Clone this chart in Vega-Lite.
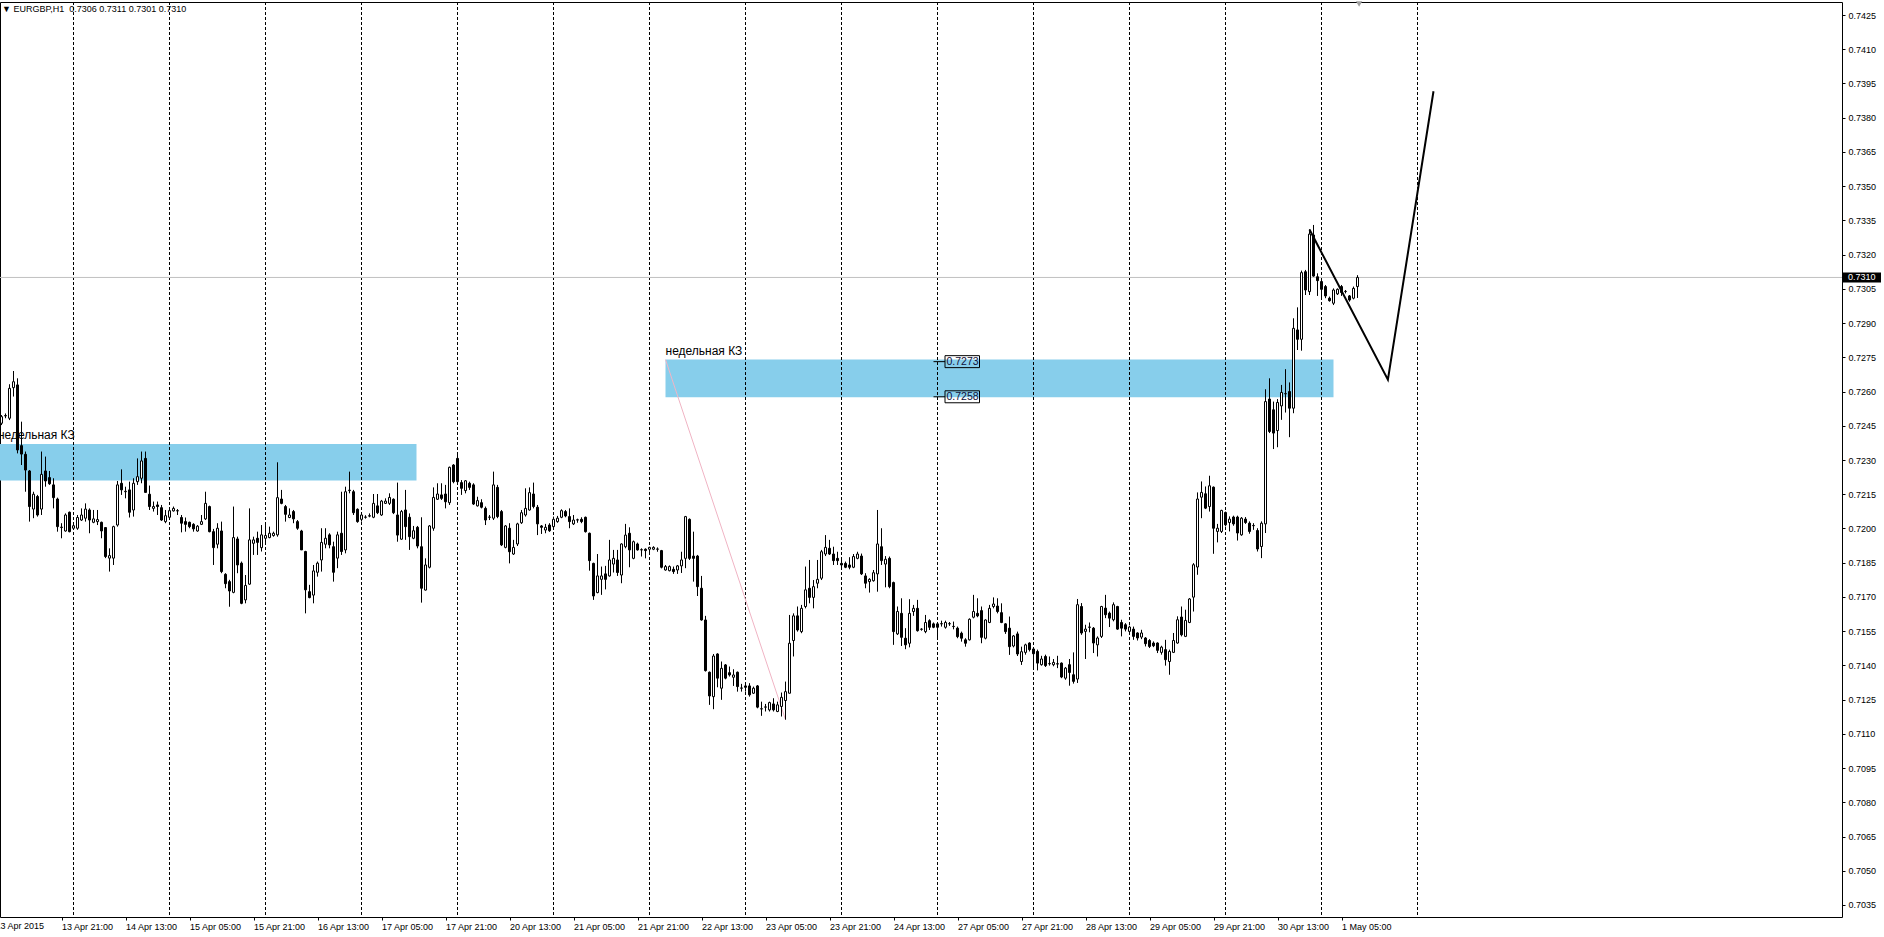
{
"$schema":"https://vega.github.io/schema/vega-lite/v6.json",
"width":1842,"height":915,
"autosize":"none",
"padding":{"left":0,"top":2,"right":42,"bottom":20},
"background":"white",
"config":{"view":{"stroke":"black","strokeWidth":1},"scale":{"continuousPadding":0},"axis":{"labelFont":"Liberation Sans","labelFontSize":9,"labelColor":"black","tickColor":"black","domain":false,"grid":false,"labelOverlap":false}},
"title":{"text":"▼ EURGBP,H1 \u00a00.7306 0.7311 0.7301 0.7310","anchor":"start","frame":"group","orient":"top","offset":-13,"dx":2,"font":"Liberation Sans","fontSize":9,"fontWeight":"normal","color":"black"},
"datasets":{
"candles":[
{"i":6,"o":0.72461,"h":0.72497,"l":0.72453,"c":0.72490},
{"i":7,"o":0.72493,"h":0.72504,"l":0.72483,"c":0.72495},
{"i":8,"o":0.72483,"h":0.72632,"l":0.72475,"c":0.72614},
{"i":9,"o":0.72617,"h":0.72690,"l":0.72578,"c":0.72643},
{"i":10,"o":0.72629,"h":0.72658,"l":0.72329,"c":0.72344},
{"i":11,"o":0.72363,"h":0.72468,"l":0.72278,"c":0.72326},
{"i":12,"o":0.72325,"h":0.72337,"l":0.72161,"c":0.72256},
{"i":13,"o":0.72252,"h":0.72256,"l":0.72030,"c":0.72096},
{"i":14,"o":0.72085,"h":0.72161,"l":0.72045,"c":0.72150},
{"i":15,"o":0.72140,"h":0.72147,"l":0.72052,"c":0.72059},
{"i":16,"o":0.72085,"h":0.72337,"l":0.72059,"c":0.72237},
{"i":17,"o":0.72252,"h":0.72315,"l":0.72183,"c":0.72208},
{"i":18,"o":0.72223,"h":0.72252,"l":0.72191,"c":0.72196},
{"i":19,"o":0.72191,"h":0.72220,"l":0.72088,"c":0.72135},
{"i":20,"o":0.72129,"h":0.72135,"l":0.71986,"c":0.72008},
{"i":21,"o":0.72004,"h":0.72023,"l":0.71957,"c":0.72006},
{"i":22,"o":0.71989,"h":0.72066,"l":0.71986,"c":0.72059},
{"i":23,"o":0.72071,"h":0.72074,"l":0.71983,"c":0.71986},
{"i":24,"o":0.72001,"h":0.72023,"l":0.71994,"c":0.72012},
{"i":25,"o":0.72001,"h":0.72059,"l":0.71994,"c":0.72048},
{"i":26,"o":0.72037,"h":0.72088,"l":0.72033,"c":0.72059},
{"i":27,"o":0.72045,"h":0.72110,"l":0.72030,"c":0.72085},
{"i":28,"o":0.72081,"h":0.72088,"l":0.71979,"c":0.72037},
{"i":29,"o":0.72027,"h":0.72081,"l":0.72023,"c":0.72042},
{"i":30,"o":0.72030,"h":0.72081,"l":0.72015,"c":0.72039},
{"i":31,"o":0.72027,"h":0.72030,"l":0.71957,"c":0.71989},
{"i":32,"o":0.72004,"h":0.72006,"l":0.71870,"c":0.71877},
{"i":33,"o":0.71870,"h":0.71913,"l":0.71811,"c":0.71881},
{"i":34,"o":0.71870,"h":0.72012,"l":0.71840,"c":0.72008},
{"i":35,"o":0.72015,"h":0.72208,"l":0.72008,"c":0.72191},
{"i":36,"o":0.72198,"h":0.72259,"l":0.72147,"c":0.72169},
{"i":37,"o":0.72161,"h":0.72183,"l":0.72132,"c":0.72163},
{"i":38,"o":0.72169,"h":0.72205,"l":0.72048,"c":0.72071},
{"i":39,"o":0.72081,"h":0.72220,"l":0.72052,"c":0.72198},
{"i":40,"o":0.72205,"h":0.72307,"l":0.72191,"c":0.72227},
{"i":41,"o":0.72220,"h":0.72337,"l":0.72198,"c":0.72296},
{"i":42,"o":0.72307,"h":0.72337,"l":0.72158,"c":0.72158},
{"i":43,"o":0.72150,"h":0.72188,"l":0.72081,"c":0.72096},
{"i":44,"o":0.72088,"h":0.72118,"l":0.72074,"c":0.72096},
{"i":45,"o":0.72103,"h":0.72118,"l":0.72059,"c":0.72096},
{"i":46,"o":0.72091,"h":0.72103,"l":0.72033,"c":0.72037},
{"i":47,"o":0.72030,"h":0.72081,"l":0.72023,"c":0.72056},
{"i":48,"o":0.72049,"h":0.72088,"l":0.72037,"c":0.72078},
{"i":49,"o":0.72077,"h":0.72096,"l":0.72074,"c":0.72088},
{"i":50,"o":0.72077,"h":0.72085,"l":0.72059,"c":0.72078},
{"i":51,"o":0.72048,"h":0.72059,"l":0.71983,"c":0.72023},
{"i":52,"o":0.72030,"h":0.72048,"l":0.71986,"c":0.72018},
{"i":53,"o":0.72027,"h":0.72030,"l":0.72001,"c":0.72008},
{"i":54,"o":0.72018,"h":0.72023,"l":0.71986,"c":0.71998},
{"i":55,"o":0.71989,"h":0.72015,"l":0.71986,"c":0.72010},
{"i":56,"o":0.72018,"h":0.72059,"l":0.72015,"c":0.72030},
{"i":57,"o":0.72042,"h":0.72161,"l":0.72037,"c":0.72110},
{"i":58,"o":0.72096,"h":0.72100,"l":0.71983,"c":0.71986},
{"i":59,"o":0.71986,"h":0.71998,"l":0.71840,"c":0.71916},
{"i":60,"o":0.71931,"h":0.72023,"l":0.71913,"c":0.72001},
{"i":61,"o":0.71989,"h":0.72030,"l":0.71804,"c":0.71811},
{"i":62,"o":0.71799,"h":0.71804,"l":0.71738,"c":0.71758},
{"i":63,"o":0.71767,"h":0.71775,"l":0.71657,"c":0.71726},
{"i":64,"o":0.71720,"h":0.72096,"l":0.71716,"c":0.71960},
{"i":65,"o":0.71954,"h":0.71964,"l":0.71804,"c":0.71840},
{"i":66,"o":0.71848,"h":0.71855,"l":0.71668,"c":0.71672},
{"i":67,"o":0.71687,"h":0.71796,"l":0.71672,"c":0.71750},
{"i":68,"o":0.71756,"h":0.72088,"l":0.71753,"c":0.71950},
{"i":69,"o":0.71935,"h":0.71964,"l":0.71884,"c":0.71950},
{"i":70,"o":0.71957,"h":0.71986,"l":0.71884,"c":0.71939},
{"i":71,"o":0.71916,"h":0.72015,"l":0.71899,"c":0.71972},
{"i":72,"o":0.71957,"h":0.72015,"l":0.71935,"c":0.71969},
{"i":73,"o":0.71960,"h":0.72008,"l":0.71957,"c":0.71979},
{"i":74,"o":0.71969,"h":0.71986,"l":0.71964,"c":0.71979},
{"i":75,"o":0.71972,"h":0.72290,"l":0.71964,"c":0.72135},
{"i":76,"o":0.72129,"h":0.72169,"l":0.72106,"c":0.72110},
{"i":77,"o":0.72096,"h":0.72103,"l":0.72030,"c":0.72062},
{"i":78,"o":0.72048,"h":0.72088,"l":0.72045,"c":0.72059},
{"i":79,"o":0.72074,"h":0.72081,"l":0.72023,"c":0.72042},
{"i":80,"o":0.72030,"h":0.72037,"l":0.71994,"c":0.72001},
{"i":81,"o":0.71989,"h":0.71994,"l":0.71906,"c":0.71906},
{"i":82,"o":0.71899,"h":0.71902,"l":0.71628,"c":0.71731},
{"i":83,"o":0.71723,"h":0.71753,"l":0.71694,"c":0.71697},
{"i":84,"o":0.71708,"h":0.71840,"l":0.71672,"c":0.71814},
{"i":85,"o":0.71808,"h":0.71855,"l":0.71789,"c":0.71848},
{"i":86,"o":0.71862,"h":0.72001,"l":0.71811,"c":0.71939},
{"i":87,"o":0.71931,"h":0.72001,"l":0.71913,"c":0.71957},
{"i":88,"o":0.71972,"h":0.71979,"l":0.71913,"c":0.71928},
{"i":89,"o":0.71920,"h":0.71942,"l":0.71767,"c":0.71808},
{"i":90,"o":0.71870,"h":0.71986,"l":0.71826,"c":0.71972},
{"i":91,"o":0.71979,"h":0.72161,"l":0.71884,"c":0.71899},
{"i":92,"o":0.71906,"h":0.72183,"l":0.71891,"c":0.72161},
{"i":93,"o":0.72166,"h":0.72249,"l":0.72154,"c":0.72168},
{"i":94,"o":0.72161,"h":0.72169,"l":0.72059,"c":0.72069},
{"i":95,"o":0.72084,"h":0.72088,"l":0.72025,"c":0.72030},
{"i":96,"o":0.72040,"h":0.72069,"l":0.72030,"c":0.72059},
{"i":97,"o":0.72049,"h":0.72058,"l":0.72043,"c":0.72050},
{"i":98,"o":0.72054,"h":0.72066,"l":0.72049,"c":0.72056},
{"i":99,"o":0.72049,"h":0.72151,"l":0.72045,"c":0.72110},
{"i":100,"o":0.72099,"h":0.72151,"l":0.72063,"c":0.72069},
{"i":101,"o":0.72059,"h":0.72125,"l":0.72055,"c":0.72120},
{"i":102,"o":0.72110,"h":0.72132,"l":0.72107,"c":0.72120},
{"i":103,"o":0.72110,"h":0.72154,"l":0.72103,"c":0.72136},
{"i":104,"o":0.72128,"h":0.72132,"l":0.72063,"c":0.72069},
{"i":105,"o":0.72059,"h":0.72201,"l":0.71942,"c":0.71971},
{"i":106,"o":0.71953,"h":0.72081,"l":0.71950,"c":0.72074},
{"i":107,"o":0.72081,"h":0.72169,"l":0.71950,"c":0.72008},
{"i":108,"o":0.72049,"h":0.72066,"l":0.71906,"c":0.71964},
{"i":109,"o":0.71957,"h":0.72011,"l":0.71953,"c":0.71990},
{"i":110,"o":0.72005,"h":0.72011,"l":0.71913,"c":0.71923},
{"i":111,"o":0.71920,"h":0.72049,"l":0.71675,"c":0.71738},
{"i":112,"o":0.71730,"h":0.71869,"l":0.71728,"c":0.71840},
{"i":113,"o":0.71830,"h":0.72015,"l":0.71825,"c":0.72011},
{"i":114,"o":0.72001,"h":0.72180,"l":0.71990,"c":0.72136},
{"i":115,"o":0.72128,"h":0.72198,"l":0.72125,"c":0.72151},
{"i":116,"o":0.72147,"h":0.72198,"l":0.72125,"c":0.72132},
{"i":117,"o":0.72151,"h":0.72191,"l":0.72088,"c":0.72117},
{"i":118,"o":0.72113,"h":0.72271,"l":0.72103,"c":0.72268},
{"i":119,"o":0.72278,"h":0.72282,"l":0.72198,"c":0.72205},
{"i":120,"o":0.72307,"h":0.72332,"l":0.72201,"c":0.72205},
{"i":121,"o":0.72201,"h":0.72212,"l":0.72147,"c":0.72176},
{"i":122,"o":0.72166,"h":0.72212,"l":0.72154,"c":0.72209},
{"i":123,"o":0.72198,"h":0.72205,"l":0.72169,"c":0.72180},
{"i":124,"o":0.72191,"h":0.72198,"l":0.72103,"c":0.72107},
{"i":125,"o":0.72099,"h":0.72139,"l":0.72096,"c":0.72122},
{"i":126,"o":0.72113,"h":0.72128,"l":0.72088,"c":0.72093},
{"i":127,"o":0.72088,"h":0.72096,"l":0.72015,"c":0.72037},
{"i":128,"o":0.72049,"h":0.72059,"l":0.72037,"c":0.72050},
{"i":129,"o":0.72045,"h":0.72249,"l":0.72037,"c":0.72191},
{"i":130,"o":0.72180,"h":0.72191,"l":0.72045,"c":0.72052},
{"i":131,"o":0.72074,"h":0.72081,"l":0.71923,"c":0.71928},
{"i":132,"o":0.71917,"h":0.72015,"l":0.71913,"c":0.72011},
{"i":133,"o":0.72001,"h":0.72023,"l":0.71847,"c":0.71898},
{"i":134,"o":0.71888,"h":0.71950,"l":0.71884,"c":0.71917},
{"i":135,"o":0.71932,"h":0.72025,"l":0.71923,"c":0.72020},
{"i":136,"o":0.72025,"h":0.72081,"l":0.72020,"c":0.72069},
{"i":137,"o":0.72059,"h":0.72176,"l":0.72052,"c":0.72088},
{"i":138,"o":0.72081,"h":0.72180,"l":0.72078,"c":0.72157},
{"i":139,"o":0.72151,"h":0.72201,"l":0.72088,"c":0.72096},
{"i":140,"o":0.72093,"h":0.72103,"l":0.71971,"c":0.72020},
{"i":141,"o":0.72011,"h":0.72015,"l":0.71976,"c":0.72005},
{"i":142,"o":0.71993,"h":0.72020,"l":0.71979,"c":0.72005},
{"i":143,"o":0.72015,"h":0.72023,"l":0.71985,"c":0.71990},
{"i":144,"o":0.72008,"h":0.72052,"l":0.72005,"c":0.72040},
{"i":145,"o":0.72030,"h":0.72055,"l":0.72025,"c":0.72045},
{"i":146,"o":0.72049,"h":0.72084,"l":0.72045,"c":0.72078},
{"i":147,"o":0.72074,"h":0.72081,"l":0.72049,"c":0.72055},
{"i":148,"o":0.72052,"h":0.72088,"l":0.72001,"c":0.72030},
{"i":149,"o":0.72020,"h":0.72059,"l":0.72015,"c":0.72037},
{"i":150,"o":0.72037,"h":0.72043,"l":0.72025,"c":0.72038},
{"i":151,"o":0.72040,"h":0.72049,"l":0.72023,"c":0.72030},
{"i":152,"o":0.72049,"h":0.72052,"l":0.71982,"c":0.71986},
{"i":153,"o":0.71979,"h":0.71982,"l":0.71815,"c":0.71859},
{"i":154,"o":0.71847,"h":0.71850,"l":0.71687,"c":0.71704},
{"i":155,"o":0.71719,"h":0.71888,"l":0.71716,"c":0.71792},
{"i":156,"o":0.71777,"h":0.71833,"l":0.71709,"c":0.71792},
{"i":157,"o":0.71801,"h":0.71836,"l":0.71733,"c":0.71777},
{"i":158,"o":0.71792,"h":0.71950,"l":0.71789,"c":0.71862},
{"i":159,"o":0.71844,"h":0.71906,"l":0.71807,"c":0.71869},
{"i":160,"o":0.71862,"h":0.71906,"l":0.71792,"c":0.71807},
{"i":161,"o":0.71796,"h":0.71935,"l":0.71760,"c":0.71932},
{"i":162,"o":0.71920,"h":0.72020,"l":0.71913,"c":0.71971},
{"i":163,"o":0.71979,"h":0.72005,"l":0.71830,"c":0.71906},
{"i":164,"o":0.71869,"h":0.71947,"l":0.71865,"c":0.71942},
{"i":165,"o":0.71932,"h":0.71938,"l":0.71903,"c":0.71906},
{"i":166,"o":0.71906,"h":0.71913,"l":0.71877,"c":0.71907},
{"i":167,"o":0.71909,"h":0.71913,"l":0.71869,"c":0.71903},
{"i":168,"o":0.71909,"h":0.71920,"l":0.71884,"c":0.71917},
{"i":169,"o":0.71909,"h":0.71922,"l":0.71905,"c":0.71917},
{"i":170,"o":0.71909,"h":0.71917,"l":0.71898,"c":0.71910},
{"i":171,"o":0.71903,"h":0.71906,"l":0.71825,"c":0.71830},
{"i":172,"o":0.71818,"h":0.71840,"l":0.71815,"c":0.71833},
{"i":173,"o":0.71815,"h":0.71838,"l":0.71812,"c":0.71833},
{"i":174,"o":0.71821,"h":0.71833,"l":0.71801,"c":0.71811},
{"i":175,"o":0.71818,"h":0.71840,"l":0.71801,"c":0.71836},
{"i":176,"o":0.71836,"h":0.71898,"l":0.71805,"c":0.71862},
{"i":177,"o":0.71869,"h":0.72055,"l":0.71826,"c":0.72052},
{"i":178,"o":0.72040,"h":0.72044,"l":0.71862,"c":0.71869},
{"i":179,"o":0.71879,"h":0.71986,"l":0.71767,"c":0.71869},
{"i":180,"o":0.71879,"h":0.71884,"l":0.71704,"c":0.71745},
{"i":181,"o":0.71738,"h":0.71792,"l":0.71596,"c":0.71599},
{"i":182,"o":0.71599,"h":0.71617,"l":0.71373,"c":0.71377},
{"i":183,"o":0.71370,"h":0.71373,"l":0.71227,"c":0.71266},
{"i":184,"o":0.71263,"h":0.71450,"l":0.71208,"c":0.71441},
{"i":185,"o":0.71450,"h":0.71453,"l":0.71304,"c":0.71344},
{"i":186,"o":0.71300,"h":0.71417,"l":0.71249,"c":0.71387},
{"i":187,"o":0.71402,"h":0.71406,"l":0.71339,"c":0.71344},
{"i":188,"o":0.71368,"h":0.71395,"l":0.71351,"c":0.71358},
{"i":189,"o":0.71348,"h":0.71383,"l":0.71310,"c":0.71358},
{"i":190,"o":0.71370,"h":0.71373,"l":0.71285,"c":0.71307},
{"i":191,"o":0.71300,"h":0.71319,"l":0.71285,"c":0.71301},
{"i":192,"o":0.71310,"h":0.71319,"l":0.71285,"c":0.71304},
{"i":193,"o":0.71310,"h":0.71322,"l":0.71263,"c":0.71271},
{"i":194,"o":0.71278,"h":0.71307,"l":0.71275,"c":0.71300},
{"i":195,"o":0.71310,"h":0.71314,"l":0.71212,"c":0.71217},
{"i":196,"o":0.71209,"h":0.71241,"l":0.71179,"c":0.71210},
{"i":197,"o":0.71217,"h":0.71231,"l":0.71198,"c":0.71218},
{"i":198,"o":0.71205,"h":0.71241,"l":0.71198,"c":0.71237},
{"i":199,"o":0.71231,"h":0.71256,"l":0.71198,"c":0.71205},
{"i":200,"o":0.71198,"h":0.71241,"l":0.71195,"c":0.71227},
{"i":201,"o":0.71220,"h":0.71281,"l":0.71176,"c":0.71260},
{"i":202,"o":0.71246,"h":0.71329,"l":0.71162,"c":0.71285},
{"i":203,"o":0.71278,"h":0.71621,"l":0.71278,"c":0.71497},
{"i":204,"o":0.71509,"h":0.71628,"l":0.71439,"c":0.71617},
{"i":205,"o":0.71617,"h":0.71658,"l":0.71548,"c":0.71555},
{"i":206,"o":0.71548,"h":0.71665,"l":0.71541,"c":0.71650},
{"i":207,"o":0.71658,"h":0.71833,"l":0.71650,"c":0.71731},
{"i":208,"o":0.71738,"h":0.71862,"l":0.71672,"c":0.71698},
{"i":209,"o":0.71698,"h":0.71774,"l":0.71650,"c":0.71745},
{"i":210,"o":0.71760,"h":0.71862,"l":0.71738,"c":0.71777},
{"i":211,"o":0.71782,"h":0.71906,"l":0.71774,"c":0.71898},
{"i":212,"o":0.71888,"h":0.71971,"l":0.71879,"c":0.71917},
{"i":213,"o":0.71913,"h":0.71950,"l":0.71884,"c":0.71888},
{"i":214,"o":0.71888,"h":0.71920,"l":0.71840,"c":0.71859},
{"i":215,"o":0.71869,"h":0.71898,"l":0.71840,"c":0.71859},
{"i":216,"o":0.71847,"h":0.71865,"l":0.71826,"c":0.71840},
{"i":217,"o":0.71847,"h":0.71855,"l":0.71826,"c":0.71830},
{"i":218,"o":0.71840,"h":0.71874,"l":0.71821,"c":0.71830},
{"i":219,"o":0.71830,"h":0.71888,"l":0.71826,"c":0.71877},
{"i":220,"o":0.71869,"h":0.71898,"l":0.71865,"c":0.71888},
{"i":221,"o":0.71879,"h":0.71890,"l":0.71796,"c":0.71801},
{"i":222,"o":0.71792,"h":0.71804,"l":0.71738,"c":0.71760},
{"i":223,"o":0.71767,"h":0.71782,"l":0.71719,"c":0.71777},
{"i":224,"o":0.71771,"h":0.71818,"l":0.71767,"c":0.71806},
{"i":225,"o":0.71801,"h":0.72081,"l":0.71723,"c":0.71932},
{"i":226,"o":0.71920,"h":0.72001,"l":0.71840,"c":0.71859},
{"i":227,"o":0.71844,"h":0.71879,"l":0.71742,"c":0.71865},
{"i":228,"o":0.71869,"h":0.71877,"l":0.71738,"c":0.71745},
{"i":229,"o":0.71763,"h":0.71767,"l":0.71490,"c":0.71548},
{"i":230,"o":0.71538,"h":0.71658,"l":0.71533,"c":0.71636},
{"i":231,"o":0.71628,"h":0.71694,"l":0.71485,"c":0.71523},
{"i":232,"o":0.71519,"h":0.71563,"l":0.71471,"c":0.71490},
{"i":233,"o":0.71497,"h":0.71690,"l":0.71479,"c":0.71628},
{"i":234,"o":0.71636,"h":0.71665,"l":0.71617,"c":0.71650},
{"i":235,"o":0.71650,"h":0.71687,"l":0.71548,"c":0.71552},
{"i":236,"o":0.71558,"h":0.71563,"l":0.71552,"c":0.71559},
{"i":237,"o":0.71548,"h":0.71621,"l":0.71541,"c":0.71588},
{"i":238,"o":0.71596,"h":0.71602,"l":0.71555,"c":0.71567},
{"i":239,"o":0.71582,"h":0.71588,"l":0.71563,"c":0.71567},
{"i":240,"o":0.71582,"h":0.71588,"l":0.71519,"c":0.71567},
{"i":241,"o":0.71582,"h":0.71596,"l":0.71570,"c":0.71583},
{"i":242,"o":0.71567,"h":0.71596,"l":0.71561,"c":0.71588},
{"i":243,"o":0.71582,"h":0.71590,"l":0.71573,"c":0.71583},
{"i":244,"o":0.71570,"h":0.71592,"l":0.71558,"c":0.71571},
{"i":245,"o":0.71563,"h":0.71570,"l":0.71519,"c":0.71526},
{"i":246,"o":0.71541,"h":0.71548,"l":0.71504,"c":0.71519},
{"i":247,"o":0.71512,"h":0.71519,"l":0.71482,"c":0.71497},
{"i":248,"o":0.71512,"h":0.71606,"l":0.71509,"c":0.71602},
{"i":249,"o":0.71611,"h":0.71709,"l":0.71606,"c":0.71636},
{"i":250,"o":0.71628,"h":0.71694,"l":0.71611,"c":0.71617},
{"i":251,"o":0.71640,"h":0.71658,"l":0.71497,"c":0.71523},
{"i":252,"o":0.71519,"h":0.71602,"l":0.71514,"c":0.71599},
{"i":253,"o":0.71588,"h":0.71665,"l":0.71585,"c":0.71650},
{"i":254,"o":0.71658,"h":0.71698,"l":0.71650,"c":0.71669},
{"i":255,"o":0.71660,"h":0.71694,"l":0.71628,"c":0.71636},
{"i":256,"o":0.71631,"h":0.71672,"l":0.71585,"c":0.71588},
{"i":257,"o":0.71582,"h":0.71585,"l":0.71538,"c":0.71548},
{"i":258,"o":0.71563,"h":0.71614,"l":0.71446,"c":0.71482},
{"i":259,"o":0.71485,"h":0.71533,"l":0.71479,"c":0.71529},
{"i":260,"o":0.71538,"h":0.71548,"l":0.71441,"c":0.71450},
{"i":261,"o":0.71417,"h":0.71482,"l":0.71402,"c":0.71460},
{"i":262,"o":0.71457,"h":0.71495,"l":0.71447,"c":0.71490},
{"i":263,"o":0.71498,"h":0.71501,"l":0.71461,"c":0.71469},
{"i":264,"o":0.71472,"h":0.71480,"l":0.71381,"c":0.71451},
{"i":265,"o":0.71461,"h":0.71469,"l":0.71378,"c":0.71410},
{"i":266,"o":0.71403,"h":0.71442,"l":0.71399,"c":0.71428},
{"i":267,"o":0.71439,"h":0.71447,"l":0.71393,"c":0.71399},
{"i":268,"o":0.71407,"h":0.71439,"l":0.71399,"c":0.71408},
{"i":269,"o":0.71403,"h":0.71428,"l":0.71396,"c":0.71413},
{"i":270,"o":0.71407,"h":0.71442,"l":0.71388,"c":0.71406},
{"i":271,"o":0.71410,"h":0.71413,"l":0.71344,"c":0.71349},
{"i":272,"o":0.71344,"h":0.71393,"l":0.71337,"c":0.71388},
{"i":273,"o":0.71403,"h":0.71428,"l":0.71311,"c":0.71369},
{"i":274,"o":0.71359,"h":0.71457,"l":0.71320,"c":0.71330},
{"i":275,"o":0.71340,"h":0.71691,"l":0.71323,"c":0.71666},
{"i":276,"o":0.71658,"h":0.71673,"l":0.71534,"c":0.71542},
{"i":277,"o":0.71549,"h":0.71578,"l":0.71428,"c":0.71559},
{"i":278,"o":0.71568,"h":0.71588,"l":0.71545,"c":0.71567},
{"i":279,"o":0.71563,"h":0.71568,"l":0.71454,"c":0.71498},
{"i":280,"o":0.71490,"h":0.71527,"l":0.71439,"c":0.71520},
{"i":281,"o":0.71527,"h":0.71661,"l":0.71520,"c":0.71658},
{"i":282,"o":0.71651,"h":0.71709,"l":0.71607,"c":0.71622},
{"i":283,"o":0.71629,"h":0.71636,"l":0.71568,"c":0.71607},
{"i":284,"o":0.71600,"h":0.71676,"l":0.71593,"c":0.71666},
{"i":285,"o":0.71658,"h":0.71661,"l":0.71556,"c":0.71559},
{"i":286,"o":0.71588,"h":0.71600,"l":0.71527,"c":0.71563},
{"i":287,"o":0.71578,"h":0.71585,"l":0.71549,"c":0.71559},
{"i":288,"o":0.71549,"h":0.71574,"l":0.71542,"c":0.71568},
{"i":289,"o":0.71559,"h":0.71570,"l":0.71512,"c":0.71527},
{"i":290,"o":0.71542,"h":0.71545,"l":0.71509,"c":0.71520},
{"i":291,"o":0.71524,"h":0.71556,"l":0.71515,"c":0.71542},
{"i":292,"o":0.71520,"h":0.71524,"l":0.71483,"c":0.71495},
{"i":293,"o":0.71509,"h":0.71515,"l":0.71476,"c":0.71483},
{"i":294,"o":0.71498,"h":0.71505,"l":0.71480,"c":0.71486},
{"i":295,"o":0.71498,"h":0.71501,"l":0.71454,"c":0.71466},
{"i":296,"o":0.71457,"h":0.71486,"l":0.71447,"c":0.71480},
{"i":297,"o":0.71469,"h":0.71512,"l":0.71399,"c":0.71425},
{"i":298,"o":0.71417,"h":0.71469,"l":0.71359,"c":0.71461},
{"i":299,"o":0.71457,"h":0.71542,"l":0.71454,"c":0.71509},
{"i":300,"o":0.71498,"h":0.71615,"l":0.71495,"c":0.71600},
{"i":301,"o":0.71612,"h":0.71658,"l":0.71527,"c":0.71534},
{"i":302,"o":0.71527,"h":0.71644,"l":0.71524,"c":0.71597},
{"i":303,"o":0.71588,"h":0.71695,"l":0.71585,"c":0.71691},
{"i":304,"o":0.71699,"h":0.71848,"l":0.71636,"c":0.71841},
{"i":305,"o":0.71831,"h":0.72158,"l":0.71797,"c":0.72129},
{"i":306,"o":0.72137,"h":0.72206,"l":0.72045,"c":0.72158},
{"i":307,"o":0.72152,"h":0.72184,"l":0.72085,"c":0.72089},
{"i":308,"o":0.72096,"h":0.72231,"l":0.72074,"c":0.72187},
{"i":309,"o":0.72181,"h":0.72184,"l":0.71889,"c":0.72001},
{"i":310,"o":0.71987,"h":0.72020,"l":0.71939,"c":0.72001},
{"i":311,"o":0.71987,"h":0.72082,"l":0.71980,"c":0.72079},
{"i":312,"o":0.72070,"h":0.72074,"l":0.72009,"c":0.72016},
{"i":313,"o":0.72026,"h":0.72053,"l":0.71987,"c":0.72041},
{"i":314,"o":0.72050,"h":0.72056,"l":0.72012,"c":0.72020},
{"i":315,"o":0.72050,"h":0.72056,"l":0.71947,"c":0.71980},
{"i":316,"o":0.71972,"h":0.72050,"l":0.71968,"c":0.72045},
{"i":317,"o":0.72041,"h":0.72050,"l":0.72020,"c":0.72026},
{"i":318,"o":0.72023,"h":0.72031,"l":0.71977,"c":0.71987},
{"i":319,"o":0.72012,"h":0.72023,"l":0.71994,"c":0.72013},
{"i":320,"o":0.71991,"h":0.72001,"l":0.71899,"c":0.71910},
{"i":321,"o":0.71921,"h":0.72031,"l":0.71870,"c":0.72023},
{"i":322,"o":0.72020,"h":0.72610,"l":0.71980,"c":0.72556},
{"i":323,"o":0.72567,"h":0.72658,"l":0.72418,"c":0.72425},
{"i":324,"o":0.72520,"h":0.72556,"l":0.72348,"c":0.72418},
{"i":325,"o":0.72429,"h":0.72567,"l":0.72356,"c":0.72552},
{"i":326,"o":0.72537,"h":0.72629,"l":0.72476,"c":0.72596},
{"i":327,"o":0.72590,"h":0.72698,"l":0.72508,"c":0.72591},
{"i":328,"o":0.72600,"h":0.72640,"l":0.72400,"c":0.72527},
{"i":329,"o":0.72527,"h":0.72921,"l":0.72505,"c":0.72877},
{"i":330,"o":0.72870,"h":0.72969,"l":0.72782,"c":0.72829},
{"i":331,"o":0.72829,"h":0.73130,"l":0.72779,"c":0.73121},
{"i":332,"o":0.73125,"h":0.73133,"l":0.73023,"c":0.73045},
{"i":333,"o":0.73038,"h":0.73311,"l":0.73023,"c":0.73290},
{"i":334,"o":0.73286,"h":0.73330,"l":0.73103,"c":0.73106},
{"i":335,"o":0.73103,"h":0.73118,"l":0.73019,"c":0.73086},
{"i":336,"o":0.73082,"h":0.73089,"l":0.73009,"c":0.73048},
{"i":337,"o":0.73060,"h":0.73067,"l":0.73009,"c":0.73019},
{"i":338,"o":0.73009,"h":0.73016,"l":0.72994,"c":0.72998},
{"i":339,"o":0.72987,"h":0.73052,"l":0.72979,"c":0.73045},
{"i":340,"o":0.73028,"h":0.73052,"l":0.73023,"c":0.73048},
{"i":341,"o":0.73060,"h":0.73067,"l":0.73019,"c":0.73034},
{"i":342,"o":0.73038,"h":0.73045,"l":0.73030,"c":0.73039},
{"i":343,"o":0.73019,"h":0.73023,"l":0.72994,"c":0.73001},
{"i":344,"o":0.73009,"h":0.73060,"l":0.73004,"c":0.73052},
{"i":345,"o":0.73060,"h":0.73110,"l":0.73010,"c":0.73100}
],
"zones":[{"name":"недельная КЗ","i0":5.1,"i1":109.75,"top":0.7237,"bot":0.7221},{"name":"недельная КЗ","i0":172,"i1":339,"top":0.7274,"bot":0.72575}],
"seps":[{"s":24},{"s":48},{"s":72},{"s":96},{"s":120},{"s":144},{"s":168},{"s":192},{"s":216},{"s":240},{"s":264},{"s":288},{"s":312},{"s":336},{"s":360}],
"pink":[{"i":172,"p":0.7274},{"i":202,"p":0.71162}],
"zig":[{"i":333,"p":0.7331},{"i":352.6,"p":0.72652},{"i":364,"p":0.73916}],
"plabels":[{"i":239,"p":0.72731,"t":"0.7273"},{"i":239,"p":0.72577,"t":"0.7258"}],
"bid":[{"p":0.731,"t":"0.7310"}],
"shift":[{"i":345.4,"p":0.74298}],
"first":[{"i":5,"t":"13 Apr 2015"}]
},
"layer":[
{"data":{"name":"zones"},"mark":{"type":"rect","color":"#87CEEB"},
 "encoding":{"x":{"field":"i0","type":"quantitative","title":null,"scale":{"domain":[5.625,466.125],"nice":false,"zero":false,"padding":0}},"x2":{"field":"i1"},
 "y":{"field":"top","type":"quantitative","title":null,"scale":{"domain":[0.702974,0.74307],"nice":false,"zero":false,"padding":0}},"y2":{"field":"bot"}}},
{"data":{"name":"zones"},"mark":{"type":"text","align":"left","baseline":"alphabetic","dy":-5,"font":"Liberation Sans","fontSize":12,"color":"black"},
 "encoding":{"x":{"field":"i0","type":"quantitative","title":null,"scale":{"domain":[5.625,466.125],"nice":false,"zero":false,"padding":0}},
 "y":{"field":"top","type":"quantitative","title":null,"scale":{"domain":[0.702974,0.74307],"nice":false,"zero":false,"padding":0}},"text":{"field":"name"}}},
{"data":{"name":"seps"},"mark":{"type":"rule","color":"black","strokeWidth":1,"strokeDash":[3,2]},
 "encoding":{"x":{"field":"s","type":"quantitative","title":null,"scale":{"domain":[5.625,466.125],"nice":false,"zero":false,"padding":0}}}},
{"data":{"name":"bid"},"mark":{"type":"rule","color":"#c0c0c0","strokeWidth":1},
 "encoding":{"y":{"field":"p","type":"quantitative","title":null,"scale":{"domain":[0.702974,0.74307],"nice":false,"zero":false,"padding":0}}}},
{"data":{"name":"pink"},"mark":{"type":"line","color":"#f0b4c4","strokeWidth":1},
 "encoding":{"x":{"field":"i","type":"quantitative","title":null,"scale":{"domain":[5.625,466.125],"nice":false,"zero":false,"padding":0}},
 "y":{"field":"p","type":"quantitative","title":null,"scale":{"domain":[0.702974,0.74307],"nice":false,"zero":false,"padding":0}}}},
{"data":{"name":"candles"},"mark":{"type":"rule","color":"black","strokeWidth":1},
 "encoding":{"x":{"field":"i","type":"quantitative","title":null,"scale":{"domain":[5.625,466.125],"nice":false,"zero":false,"padding":0},
   "axis":{"values":[21,37,53,69,85,101,117,133,149,165,181,197,213,229,245,261,277,293,309,325,341],"tickCount":100,
   "labelExpr":"['13 Apr 21:00','14 Apr 13:00','15 Apr 05:00','15 Apr 21:00','16 Apr 13:00','17 Apr 05:00','17 Apr 21:00','20 Apr 13:00','21 Apr 05:00','21 Apr 21:00','22 Apr 13:00','23 Apr 05:00','23 Apr 21:00','24 Apr 13:00','27 Apr 05:00','27 Apr 21:00','28 Apr 13:00','29 Apr 05:00','29 Apr 21:00','30 Apr 13:00','1 May 05:00'][round((datum.value-21)/16)]",
   "labelAlign":"left","labelDx":-2,"labelBaseline":"top","labelPadding":2,"tickSize":3,"labelOverlap":false,"labelFlush":false,"labelBound":false}},
  "y":{"field":"l","type":"quantitative","title":null,"scale":{"domain":[0.702974,0.74307],"nice":false,"zero":false,"padding":0},
   "axis":{"orient":"right","values":[0.7035,0.705,0.7065,0.708,0.7095,0.711,0.7125,0.714,0.7155,0.717,0.7185,0.72,0.7215,0.723,0.7245,0.726,0.7275,0.729,0.7305,0.732,0.7335,0.735,0.7365,0.738,0.7395,0.741,0.7425],"tickCount":100,
   "format":".4f","tickSize":3,"labelPadding":3,"labelBaseline":"middle","labelOverlap":false,"labelFlush":false,"labelBound":false}},
  "y2":{"field":"h"}}},
{"data":{"name":"candles"},"mark":{"type":"bar","width":2,"stroke":"black","strokeWidth":1},
 "encoding":{"x":{"field":"i","type":"quantitative","title":null,"scale":{"domain":[5.625,466.125],"nice":false,"zero":false,"padding":0}},
  "y":{"field":"o","type":"quantitative","title":null,"scale":{"domain":[0.702974,0.74307],"nice":false,"zero":false,"padding":0}},"y2":{"field":"c"},
  "fill":{"condition":{"test":"datum.c >= datum.o","value":"white"},"value":"black"}}},
{"data":{"name":"zig"},"mark":{"type":"line","color":"black","strokeWidth":2},
 "encoding":{"x":{"field":"i","type":"quantitative","title":null,"scale":{"domain":[5.625,466.125],"nice":false,"zero":false,"padding":0}},
 "y":{"field":"p","type":"quantitative","title":null,"scale":{"domain":[0.702974,0.74307],"nice":false,"zero":false,"padding":0}}}},
{"data":{"name":"plabels"},"mark":{"type":"point","shape":"M0,0H0.5M0.5,-0.26H2V0.26H0.5Z","size":2116,"filled":false,"stroke":"black","strokeWidth":1,"opacity":1},
 "encoding":{"x":{"field":"i","type":"quantitative","title":null,"scale":{"domain":[5.625,466.125],"nice":false,"zero":false,"padding":0}},
 "y":{"field":"p","type":"quantitative","title":null,"scale":{"domain":[0.702974,0.74307],"nice":false,"zero":false,"padding":0}}}},
{"data":{"name":"plabels"},"mark":{"type":"text","align":"left","baseline":"middle","dx":13,"font":"Liberation Sans","fontSize":10.5,"color":"#10103a"},
 "encoding":{"x":{"field":"i","type":"quantitative","title":null,"scale":{"domain":[5.625,466.125],"nice":false,"zero":false,"padding":0}},
 "y":{"field":"p","type":"quantitative","title":null,"scale":{"domain":[0.702974,0.74307],"nice":false,"zero":false,"padding":0}},"text":{"field":"t"}}},
{"data":{"name":"shift"},"mark":{"type":"point","shape":"triangle-down","size":40,"filled":true,"color":"#a0a0a0","opacity":1},
 "encoding":{"x":{"field":"i","type":"quantitative","title":null,"scale":{"domain":[5.625,466.125],"nice":false,"zero":false,"padding":0}},
 "y":{"field":"p","type":"quantitative","title":null,"scale":{"domain":[0.702974,0.74307],"nice":false,"zero":false,"padding":0}}}},
{"data":{"name":"first"},"mark":{"type":"text","align":"left","baseline":"top","dx":-2,"dy":5,"font":"Liberation Sans","fontSize":9,"color":"black"},
 "encoding":{"x":{"field":"i","type":"quantitative","title":null,"scale":{"domain":[5.625,466.125],"nice":false,"zero":false,"padding":0}},
 "y":{"value":"height"},"text":{"field":"t"}}},
{"data":{"name":"bid"},"mark":{"type":"point","shape":"M0.05,-0.25H1.95V0.25H0.05Z","size":1600,"filled":true,"color":"black","opacity":1},
 "encoding":{"x":{"value":"width"},
 "y":{"field":"p","type":"quantitative","title":null,"scale":{"domain":[0.702974,0.74307],"nice":false,"zero":false,"padding":0}}}},
{"data":{"name":"bid"},"mark":{"type":"text","align":"left","baseline":"middle","dx":6,"font":"Liberation Sans","fontSize":9,"color":"white"},
 "encoding":{"x":{"value":"width"},
 "y":{"field":"p","type":"quantitative","title":null,"scale":{"domain":[0.702974,0.74307],"nice":false,"zero":false,"padding":0}},"text":{"field":"t"}}}
]
}
